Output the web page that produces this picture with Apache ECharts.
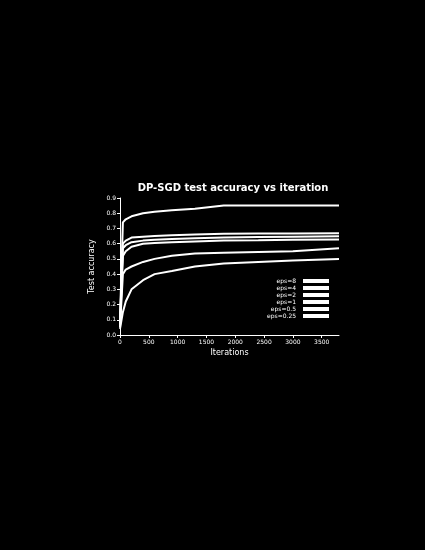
<!DOCTYPE html>
<html><head><meta charset="utf-8">
<script src="https://cdn.jsdelivr.net/npm/echarts@6/dist/echarts.min.js"></script>
<style>html,body{margin:0;padding:0;background:#000;}#c{width:425px;height:550px;}</style>
</head><body><div id="c"></div>
<script>
var iterations = [0, 50, 100, 200, 400, 600, 900, 1300, 1800, 2400, 3000, 3800];
var seriesNames = ['eps=8', 'eps=4', 'eps=2', 'eps=1', 'eps=0.5', 'eps=0.25'];
var s1 = [0.10, 0.74, 0.76, 0.78, 0.80, 0.81, 0.82, 0.83, 0.85, 0.85, 0.85, 0.85];
var s2 = [0.08, 0.60, 0.62, 0.64, 0.645, 0.65, 0.655, 0.66, 0.665, 0.667, 0.667, 0.668];
var s3 = [0.07, 0.57, 0.59, 0.61, 0.62, 0.625, 0.63, 0.635, 0.64, 0.643, 0.645, 0.648];
var s4 = [0.06, 0.52, 0.55, 0.58, 0.60, 0.605, 0.61, 0.615, 0.62, 0.622, 0.625, 0.628];
var s5 = [0.05, 0.40, 0.43, 0.45, 0.48, 0.50, 0.52, 0.535, 0.54, 0.545, 0.55, 0.57];
var s6 = [0.04, 0.15, 0.22, 0.30, 0.36, 0.40, 0.42, 0.45, 0.47, 0.48, 0.49, 0.50];
var allSeries = [s1, s2, s3, s4, s5, s6];

var chart = echarts.init(document.getElementById('c'));
chart.setOption({
  backgroundColor:'#000',
  animation:false,
  title:{text:'DP-SGD test accuracy vs iteration', left:228, top:178, textAlign:'center',
    textStyle:{color:'#fff', fontSize:10, fontWeight:'bold', fontFamily:'DejaVu Sans'}},
  legend:{orient:'vertical', left:262, top:273, align:'right', itemWidth:26, itemHeight:4, itemGap:1,
    icon:'rect', textStyle:{color:'#fff', fontSize:6, fontFamily:'DejaVu Sans', padding:[0,2,0,0]},
    data:seriesNames},
  grid:{left:120, right:86, top:198, bottom:215},
  xAxis:{type:'value', min:0, max:3800, interval:500, name:'Iterations', nameLocation:'middle', nameGap:14,
    nameTextStyle:{color:'#fff', fontSize:8, fontFamily:'DejaVu Sans'},
    axisLine:{lineStyle:{color:'#fff'}}, axisTick:{lineStyle:{color:'#fff'}, length:3},
    axisLabel:{color:'#fff', fontSize:6, margin:4, fontFamily:'DejaVu Sans', showMaxLabel:false,
      formatter:function(v){return String(v);}}, splitLine:{show:false}},
  yAxis:{type:'value', min:0, max:0.9, interval:0.1, name:'Test accuracy', nameLocation:'middle', nameGap:22,
    nameTextStyle:{color:'#fff', fontSize:8, fontFamily:'DejaVu Sans'},
    axisLine:{show:true, lineStyle:{color:'#fff'}}, axisTick:{show:true, lineStyle:{color:'#fff'}, length:3},
    axisLabel:{color:'#fff', fontSize:6, margin:4, fontFamily:'DejaVu Sans', formatter:function(v){return v.toFixed(1);}},
    splitLine:{show:false}},
  series: allSeries.map(function(d, i){
    return {name:seriesNames[i], type:'line', showSymbol:false, symbol:'none',
      lineStyle:{color:'#fff', width:2}, itemStyle:{color:'#fff'},
      data: iterations.map(function(x, j){return [x, d[j]];})};
  })
});
</script></body></html>
